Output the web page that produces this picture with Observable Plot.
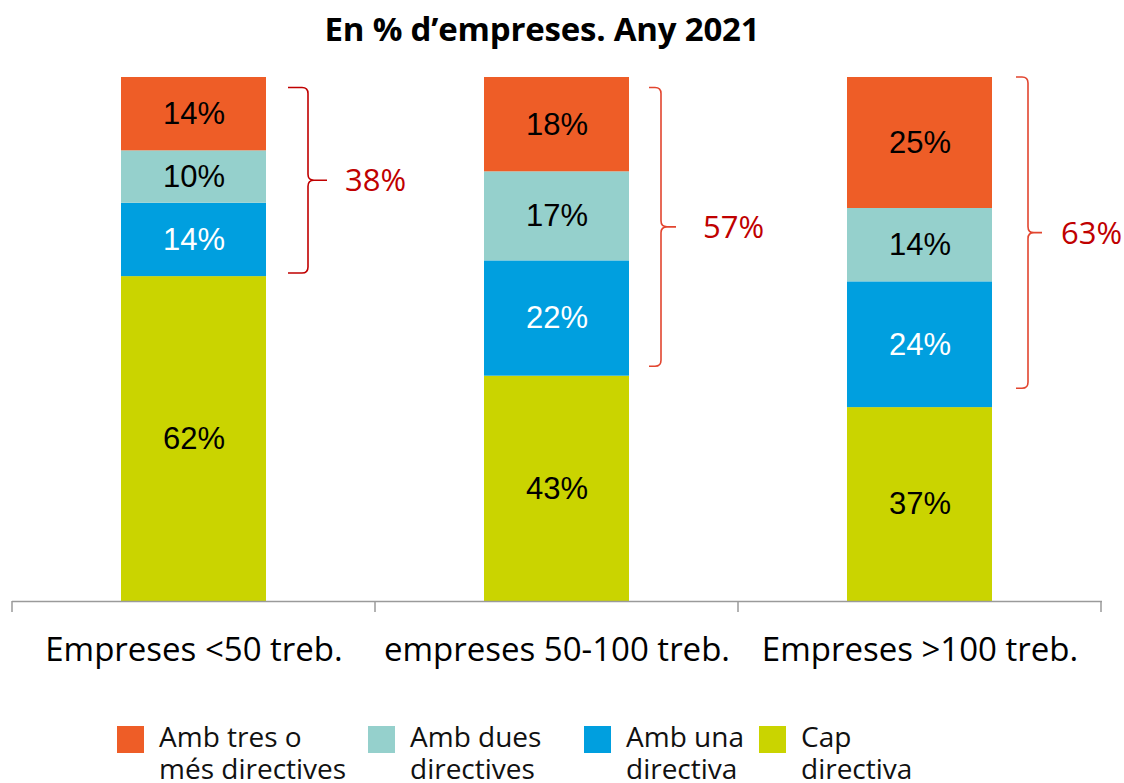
<!DOCTYPE html>
<html>
<head>
<meta charset="utf-8">
<script src="https://cdn.jsdelivr.net/npm/d3@7"></script>
<script src="https://cdn.jsdelivr.net/npm/@observablehq/plot@0.6"></script>
<style>
  body { margin: 0; background: #fff; width: 1124px; height: 783px; overflow: hidden; }
  #title { width: 1124px; height: 56px; line-height: 58px; box-sizing: border-box; padding-right: 40px;
    text-align: center; font-family: "Open Sans", sans-serif; font-weight: 700; font-size: 33px; color: #000; letter-spacing: -0.2px; }
  #chart svg { overflow: visible; display: block; }
  #legend { display: flex; padding-left: 117px; padding-top: 24px; font-family: "Open Sans", sans-serif; font-size: 28px; line-height: 32px; color: #111; }
  .item { display: flex; align-items: flex-start; }
  .sw { width: 27px; height: 27px; margin-top: 6px; margin-right: 15px; flex: none; }
</style>
</head>
<body>
<div id="title">En % d’empreses. Any 2021</div>
<div id="chart"></div>
<div id="legend"></div>
<script>
// ---- data ----
const categories = ["Empreses <50 treb.", "empreses 50-100 treb.", "Empreses >100 treb."];
const series = ["Cap directiva", "Amb una directiva", "Amb dues directives", "Amb tres o més directives"];
const capDirectiva = [62, 43, 37];
const ambUna = [14, 22, 24];
const ambDues = [10, 17, 14];
const ambTres = [14, 18, 25];
const bracketTotals = [38, 57, 63];
const bracketFrom = [62.6, 44.8, 40.6];
const bracketTo = [98, 98, 100];
const legendOrder = ["Amb tres o més directives", "Amb dues directives", "Amb una directiva", "Cap directiva"];
const legendLines = [["Amb tres o", "més directives"], ["Amb dues", "directives"], ["Amb una", "directiva"], ["Cap", "directiva"]];

// ---- styles ----
const colors = ["#CAD400", "#009FDF", "#95D0CC", "#EE5D27"];
const bracketColors = ["#C00000", "#E2452F", "#E2452F"];
const bracketOffsets = [
  {arm: 22, spine: 42, tip: 61, label: 18},
  {arm: 20, spine: 32, tip: 47, label: 27},
  {arm: 24, spine: 36, tip: 50, label: 19}
];
const legendWidths = [251, 216, 175, 200];
const whiteLabelSeries = "Amb una directiva";

const valuesBySeries = [capDirectiva, ambUna, ambDues, ambTres];
const rows = [];
categories.forEach((c, i) => {
  series.forEach((s, j) => rows.push({cat: c, series: s, value: valuesBySeries[j][i]}));
});

function axisTicks(index, scales, values, dimensions) {
  const x = scales.x, y = scales.y;
  const bw = x.bandwidth();
  const step = x(categories[1]) - x(categories[0]);
  const pad = (step - bw) / 2;
  const g = d3.create("svg:g").attr("stroke", "#9a9a9a").attr("stroke-width", 1.5);
  const xs = categories.map(c => x(c) - pad);
  xs.push(x(categories[categories.length - 1]) + bw + pad);
  const y0 = y(0);
  xs.forEach(px => g.append("line").attr("x1", px).attr("x2", px).attr("y1", y0).attr("y2", y0 + 11));
  return g.node();
}

function brackets(index, scales, values, dimensions) {
  const x = scales.x, y = scales.y;
  const bw = x.bandwidth();
  const g = d3.create("svg:g");
  categories.forEach((c, i) => {
    const o = bracketOffsets[i];
    const right = x(c) + bw;
    const xa = right + o.arm, xs = right + o.spine, xt = right + o.tip;
    const yt = y(bracketTo[i]), yb = y(bracketFrom[i]), ym = (yt + yb) / 2;
    const r = 6;
    const d = `M${xa},${yt} L${xs - r},${yt} Q${xs},${yt} ${xs},${yt + r} L${xs},${ym - r} Q${xs},${ym} ${xs + r},${ym} L${xt},${ym} M${xs + r},${ym} Q${xs},${ym} ${xs},${ym + r} L${xs},${yb - r} Q${xs},${yb} ${xs - r},${yb} L${xa},${yb}`;
    g.append("path").attr("d", d).attr("fill", "none").attr("stroke", bracketColors[i]).attr("stroke-width", 1.6);
    g.append("text")
      .attr("x", xt + o.label).attr("y", ym).attr("dy", "0.36em")
      .attr("text-anchor", "start")
      .attr("font-family", "Open Sans, sans-serif").attr("font-size", 31)
      .attr("fill", "#C00000")
      .text(bracketTotals[i] + "%");
  });
  return g.node();
}

const labelFont = "Liberation Sans, Arial, sans-serif";
const chart = Plot.plot({
  width: 1124,
  height: 640,
  marginTop: 21,
  marginBottom: 95,
  marginLeft: 12,
  marginRight: 22,
  x: {domain: categories, paddingInner: 0.6, paddingOuter: 0.3, label: null},
  y: {domain: [0, 100], axis: null},
  color: {domain: series, range: colors},
  marks: [
    Plot.barY(rows, Plot.stackY({x: "cat", y: "value", fill: "series"})),
    Plot.text(rows, Plot.stackY({
      x: "cat", y: "value", fill: "black", fontSize: 31, fontFamily: labelFont,
      text: d => d.series === whiteLabelSeries ? null : d.value + "%"
    })),
    Plot.text(rows, Plot.stackY({
      x: "cat", y: "value", fill: "white", fontSize: 31, fontFamily: labelFont,
      text: d => d.series === whiteLabelSeries ? d.value + "%" : null
    })),
    Plot.ruleY([0], {stroke: "#9a9a9a", strokeWidth: 1.5}),
    axisTicks,
    brackets,
    Plot.axisX({tickSize: 0, tickPadding: 36, fontSize: 33, fontFamily: "Open Sans, sans-serif", color: "black", label: null})
  ]
});
document.getElementById("chart").appendChild(chart);

// legend
const legend = document.getElementById("legend");
legendOrder.forEach((name, k) => {
  const item = document.createElement("div");
  item.className = "item";
  item.style.width = legendWidths[k] + "px";
  const sw = document.createElement("div");
  sw.className = "sw";
  sw.style.background = colors[series.indexOf(name)];
  const txt = document.createElement("div");
  txt.innerHTML = legendLines[k].join("<br>");
  item.appendChild(sw);
  item.appendChild(txt);
  legend.appendChild(item);
});
</script>
</body>
</html>
